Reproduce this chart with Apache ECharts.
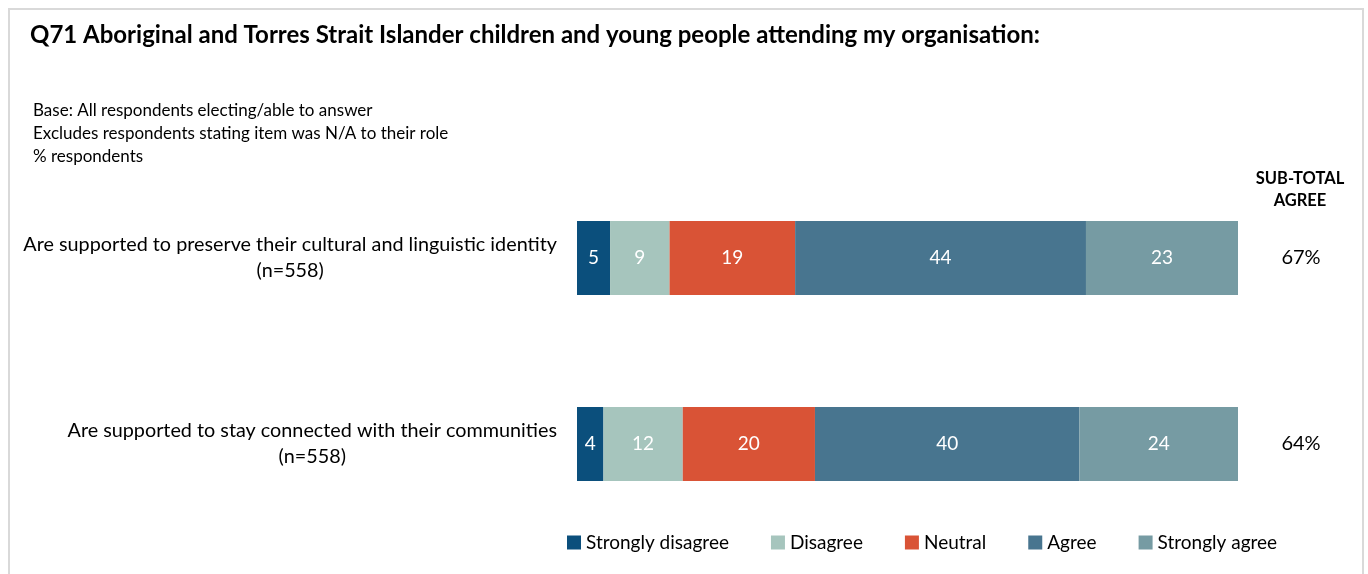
<!DOCTYPE html>
<html>
<head>
<meta charset="utf-8">
<script src="https://cdn.jsdelivr.net/npm/echarts@6/dist/echarts.min.js"></script>
<style>
html,body{margin:0;padding:0;background:#fff;}
#chart{width:1368px;height:574px;}
</style>
</head>
<body>
<div id="chart"></div>
<script>
var categories = [
  'Are supported to preserve their cultural and linguistic identity\n(n=558)',
  'Are supported to stay connected with their communities\n(n=558)'
];
var seriesNames = ['Strongly disagree', 'Disagree', 'Neutral', 'Agree', 'Strongly agree'];
var stronglyDisagree = [5, 4];
var disagree = [9, 12];
var neutral = [19, 20];
var agree = [44, 40];
var stronglyAgree = [23, 24];
var subTotalAgree = [67, 64];
var colors = ['#0B4F7C', '#A6C5BD', '#D95336', '#48758F', '#769BA3'];

var FONT = 'Lato';
var chart = echarts.init(document.getElementById('chart'));
var seriesData = [stronglyDisagree, disagree, neutral, agree, stronglyAgree];

var series = seriesData.map(function (d, i) {
  return {
    name: seriesNames[i],
    type: 'bar',
    stack: 'total',
    barWidth: 74,
    data: d,
    itemStyle: { color: colors[i] },
    label: {
      show: true,
      position: 'inside',
      color: '#fff',
      fontFamily: FONT,
      fontSize: 19
    },
    emphasis: { disabled: true }
  };
});

chart.setOption({
  animation: false,
  textStyle: { fontFamily: FONT },
  graphic: [
    { type: 'polyline', shape: { points: [[9, 600], [9, 9], [1363, 9], [1363, 600]] },
      style: { stroke: '#d9d9d9', lineWidth: 2, fill: null } },
    { type: 'text', x: 30, y: 35,
      style: { text: 'Q71 Aboriginal and Torres Strait Islander children and young people attending my organisation:',
        font: 'bold 24px ' + FONT, fill: '#000', verticalAlign: 'middle' } },
    { type: 'text', x: 33, y: 99,
      style: { text: 'Base: All respondents electing/able to answer\nExcludes respondents stating item was N/A to their role\n% respondents',
        font: '17px ' + FONT, lineHeight: 23, fill: '#000' } },
    { type: 'text', x: 1300, y: 168,
      style: { text: 'SUB-TOTAL\nAGREE', font: 'bold 16.5px ' + FONT, lineHeight: 22, align: 'center', fill: '#000' } }
  ],
  legend: {
    data: seriesNames,
    left: 567,
    top: 533,
    padding: 0,
    itemWidth: 14,
    itemHeight: 14,
    itemGap: 42,
    icon: 'rect',
    textStyle: { fontFamily: FONT, fontSize: 19, color: '#000' },
    selectedMode: false
  },
  grid: { left: 577, right: 130, top: 165, bottom: 37, containLabel: false },
  xAxis: { type: 'value', min: 0, max: 100, show: false },
  yAxis: [
    {
      type: 'category',
      data: categories,
      inverse: true,
      axisLine: { show: false },
      axisTick: { show: false },
      axisLabel: {
        margin: 20,
        formatter: function (v) {
          return v.split('\n').map(function (l) { return '{a|' + l + '}'; }).join('\n');
        },
        rich: { a: { align: 'center', fontFamily: FONT, fontSize: 19.8, color: '#000', lineHeight: 26 } }
      }
    },
    {
      type: 'category',
      data: categories,
      inverse: true,
      position: 'right',
      axisLine: { show: false },
      axisTick: { show: false },
      axisLabel: {
        margin: 63,
        align: 'center',
        fontFamily: FONT,
        fontSize: 20,
        color: '#000',
        formatter: function (v, idx) { return subTotalAgree[idx] + '%'; }
      }
    }
  ],
  series: series
});
</script>
</body>
</html>
